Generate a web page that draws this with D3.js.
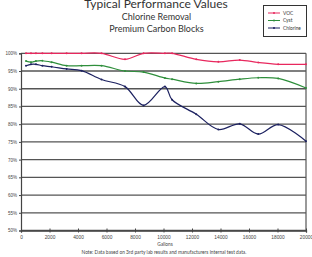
<!DOCTYPE html>
<html><head><meta charset="utf-8">
<script src="https://cdn.jsdelivr.net/npm/d3@7"></script>
<style>
html,body{margin:0;padding:0;background:#fff;}
svg{display:block;font-family:Lato,"Open Sans",sans-serif;}
</style></head>
<body><svg id="c" width="312" height="257"></svg>
<script>
const gallons = [350,700,1050,1500,2150,3200,4250,5650,7300,8600,10100,10600,12300,13850,15350,16650,18050,20000];
const voc      = [100,100,100,100,100,100,100,100,98.3,100,100,100,98.3,97.6,98.1,97.4,96.9,96.9];
const cyst     = [97.8,97.5,97.8,97.9,97.5,96.5,96.5,96.5,95.0,94.7,93.0,92.7,91.5,92.0,92.7,93.1,92.9,90.2];
const chlorine = [96.5,96.9,96.9,96.5,96.2,95.6,95.1,92.6,90.6,85.3,90.6,86.9,82.8,78.5,80.1,77.2,79.9,75.2];
const seriesNames = ["VOC","Cyst","Chlorine"];
const seriesColors = ["#e8285e","#2f8f3c","#1c2160"];
const yTicks = [50,55,60,65,70,75,80,85,90,95,100];
const xTicks = [0,2000,4000,6000,8000,10000,12000,14000,16000,18000,20000];
const titleLines = ["Typical Performance Values","Chlorine Removal","Premium Carbon Blocks"];
const xLabel = "Gallons";
const note = "Note:  Data based on 3rd party lab results and manufacturers internal test data.";

const svg = d3.select("#c");
const x = d3.scaleLinear().domain([0,20000]).range([21,306]);
const y = d3.scaleLinear().domain([50,100]).range([230.5,53.3]);

// titles
svg.append("text").attr("x",156).attr("y",8).attr("text-anchor","middle")
  .attr("font-size",12).attr("fill","#333").text(titleLines[0]);
svg.append("text").attr("x",156.5).attr("y",20).attr("text-anchor","middle")
  .attr("font-size",9).attr("fill","#333").text(titleLines[1]);
svg.append("text").attr("x",156.5).attr("y",32).attr("text-anchor","middle")
  .attr("font-size",9).attr("fill","#333").text(titleLines[2]);

// gridlines
svg.append("g").selectAll("line").data(yTicks).join("line")
  .attr("x1",x(0)).attr("x2",x(20000)).attr("y1",d=>y(d)).attr("y2",d=>y(d))
  .attr("stroke","#555").attr("stroke-width",1.3);
// right border and left axis
svg.append("line").attr("x1",x(20000)).attr("x2",x(20000)).attr("y1",y(100)).attr("y2",y(50))
  .attr("stroke","#555").attr("stroke-width",1.2);

const yAxis = d3.axisLeft(y).tickValues(yTicks).tickFormat(d=>d+"%").tickSize(2).tickPadding(2);
const gy = svg.append("g").attr("transform",`translate(${x(0)},0)`).call(yAxis);
gy.select(".domain").attr("stroke","#444").attr("stroke-width",1.2);
gy.selectAll("text").attr("font-size",4.5).attr("fill","#444");
gy.selectAll(".tick line").attr("stroke","#444");

const xAxis = d3.axisBottom(x).tickValues(xTicks).tickFormat(d=>d).tickSize(2).tickPadding(3);
const gx = svg.append("g").attr("transform",`translate(0,${y(50)})`).call(xAxis);
gx.select(".domain").attr("stroke","#444").attr("stroke-width",1.3);
gx.selectAll("text").attr("font-size",4.8).attr("fill","#444");
gx.selectAll(".tick line").attr("stroke","#444").attr("y1",-2);

svg.append("text").attr("x",165).attr("y",246).attr("text-anchor","middle")
  .attr("font-size",4.8).attr("fill","#444").text(xLabel);
svg.append("text").attr("x",164).attr("y",254).attr("text-anchor","middle")
  .attr("font-size",4.8).attr("fill","#444").text(note);

// lines
const allVals = [voc,cyst,chlorine];
const line = d3.line().x(d=>x(d[0])).y(d=>y(d[1])).curve(d3.curveCatmullRom.alpha(0.5));
allVals.forEach((vals,i)=>{
  const pts = gallons.map((g,j)=>[g,vals[j]]);
  svg.append("path").datum(pts).attr("d",line).attr("fill","none")
    .attr("stroke",seriesColors[i]).attr("stroke-width",1.2);
  svg.append("g").selectAll("circle").data(pts).join("circle")
    .attr("cx",d=>x(d[0])).attr("cy",d=>y(d[1])).attr("r",1)
    .attr("fill",seriesColors[i]);
});

// legend
const lg = svg.append("g");
lg.append("rect").attr("x",263.5).attr("y",5.5).attr("width",43).attr("height",31)
  .attr("fill","#fff").attr("stroke","#333").attr("stroke-width",1);
seriesNames.forEach((n,i)=>{
  const yy = 13 + i*7.5;
  lg.append("line").attr("x1",268).attr("x2",280).attr("y1",yy).attr("y2",yy)
    .attr("stroke",seriesColors[i]).attr("stroke-width",1);
  lg.append("circle").attr("cx",274).attr("cy",yy).attr("r",1).attr("fill",seriesColors[i]);
  lg.append("text").attr("x",283).attr("y",yy+1.6).attr("font-size",4.8).attr("fill","#333").text(n);
});
</script></body></html>
